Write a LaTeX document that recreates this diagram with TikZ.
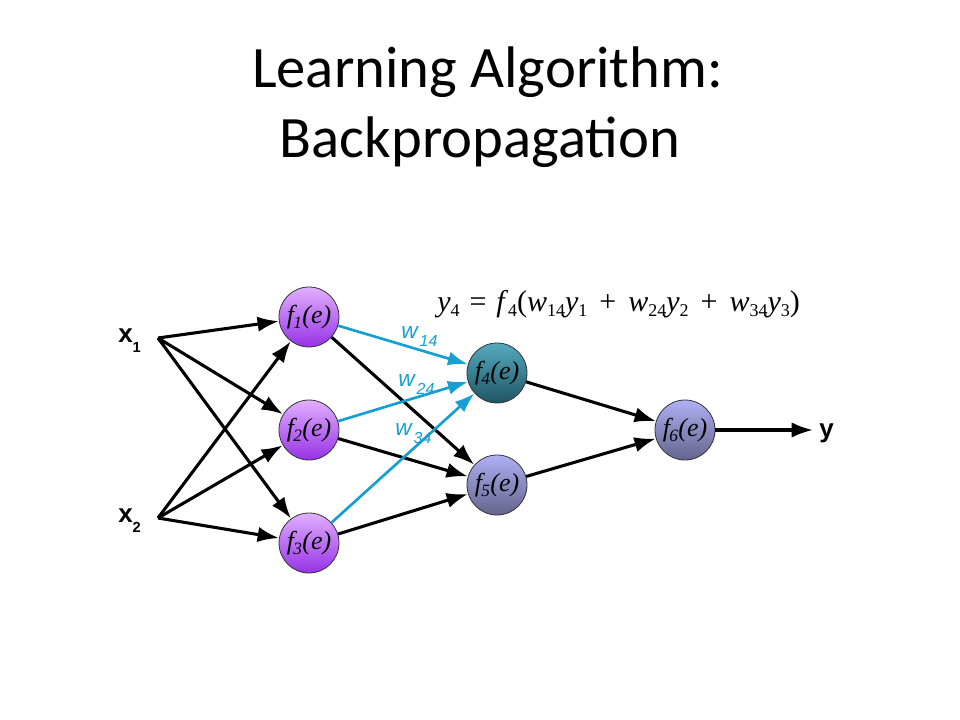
\documentclass[tikz,border=0pt]{standalone}
\usepackage{fontspec}
\setmainfont{Carlito}
\newfontfamily\arialf{Liberation Sans}
\newfontfamily\timesf{Liberation Serif}
\usetikzlibrary{arrows.meta}
\definecolor{wcyan}{RGB}{22,160,210}
\definecolor{pA}{RGB}{225,175,255}
\definecolor{pB}{RGB}{192,112,245}
\definecolor{pC}{RGB}{150,50,230}
\definecolor{tA}{RGB}{85,170,190}
\definecolor{tB}{RGB}{55,140,160}
\definecolor{tC}{RGB}{30,85,100}
\definecolor{lA}{RGB}{175,175,245}
\definecolor{lB}{RGB}{150,150,220}
\definecolor{lC}{RGB}{100,100,140}
\newcommand\flab[1]{f\kern-0.5pt\raisebox{-4pt}{\fontsize{13}{13}\selectfont #1}\kern0.3pt(e)}
\newcommand\wsub[1]{w\kern1.5pt\raisebox{-6pt}{\fontsize{12}{12}\selectfont #1}}
\newcommand\sbs[1]{\raisebox{-4pt}{\fontsize{13.5}{13.5}\selectfont #1}}
\newcommand\eqsp{\hspace{0.33em}}
\newcommand\plsp{\hspace{0.4em}}
\begin{document}
\begin{tikzpicture}[x=0.75pt,y=-0.75pt,
  neuron/.style={circle, draw=black!80, line width=0.6pt, minimum size=45pt, inner sep=0pt,
    shading=axis, shading angle=45, font=\timesf\itshape\fontsize{19.5}{19.5}\selectfont},
  purp/.style={neuron, top color=pA, middle color=pB, bottom color=pC},
  teal/.style={neuron, top color=tA, middle color=tB, bottom color=tC},
  lav/.style={neuron, top color=lA, middle color=lB, bottom color=lC},
  blk/.style={line width=2.3pt, draw=black, -{Latex[length=16pt,width=11.5pt]}},
  cyn/.style={line width=2pt, draw=wcyan, -{Latex[length=15pt,width=10.5pt]}},
  inlab/.style={font=\arialf\bfseries\fontsize{19.5}{19.5}\selectfont, inner sep=0pt},
  wlab/.style={font=\arialf\itshape\fontsize{17}{17}\selectfont, text=wcyan, inner sep=0pt, anchor=base west},
  ttl/.style={font=\fontsize{44}{44}\selectfont, anchor=base, inner sep=0pt}]
\useasboundingbox[fill=white] (0,0) rectangle (960,720);

% title
\node[ttl] (t1) at (487.5,88) {Learning Algorithm:};
\node[ttl] (t2) at (480,158) {Backpropagation};

% equation
\node[anchor=base west, inner sep=0pt, font=\timesf\fontsize{22.5}{22.5}\selectfont] (eq) at (437,311)
 {\textit{y}\sbs{4}\eqsp=\eqsp\textit{f}\sbs{4}(\textit{w}\sbs{14}\textit{y}\sbs{1}\plsp+\plsp\textit{w}\sbs{24}\textit{y}\sbs{2}\plsp+\plsp\textit{w}\sbs{34}\textit{y}\sbs{3})};

% neurons
\node[purp] (f1) at (309,317) {\flab{1}};
\node[purp] (f2) at (309,430) {\flab{2}};
\node[purp] (f3) at (309,543) {\flab{3}};
\node[teal] (f4) at (497,373) {\flab{4}};
\node[lav]  (f5) at (497,485) {\flab{5}};
\node[lav]  (f6) at (685,430) {\flab{6}};

% inputs / output labels
\node[inlab, anchor=base west] (x1) at (118,342) {x\raisebox{-7.5pt}{\fontsize{11}{11}\selectfont 1}};
\node[inlab, anchor=base west] (x2) at (118,522) {x\raisebox{-7.5pt}{\fontsize{11}{11}\selectfont 2}};
\node[inlab, anchor=base west] (ylab) at (819,437) {y};
\coordinate (x1s) at (158,338);
\coordinate (x2s) at (158,518);
\coordinate (yend) at (813,430);

% black connectors
\draw[blk] (x1s) -- (f1);
\draw[blk] (x1s) -- (f2);
\draw[blk] (x1s) -- (f3);
\draw[blk] (x2s) -- (f1);
\draw[blk] (x2s) -- (f2);
\draw[blk] (x2s) -- (f3);
\draw[blk] (f1) -- (f5);
\draw[blk] (f2) -- (f5);
\draw[blk] (f3) -- (f5);
\draw[blk] (f4) -- (f6);
\draw[blk] (f5) -- (f6);
\draw[blk] (f6) -- (yend);

% cyan connectors
\draw[cyn] (f1) -- (f4);
\draw[cyn] (f2) -- (f4);
\draw[cyn] (f3) -- (f4);

% weight labels
\node[wlab] (w14) at (401,338) {\wsub{14}};
\node[wlab] (w24) at (398,386) {\wsub{24}};
\node[wlab] (w34) at (395,435) {\wsub{34}};
\end{tikzpicture}
\end{document}
